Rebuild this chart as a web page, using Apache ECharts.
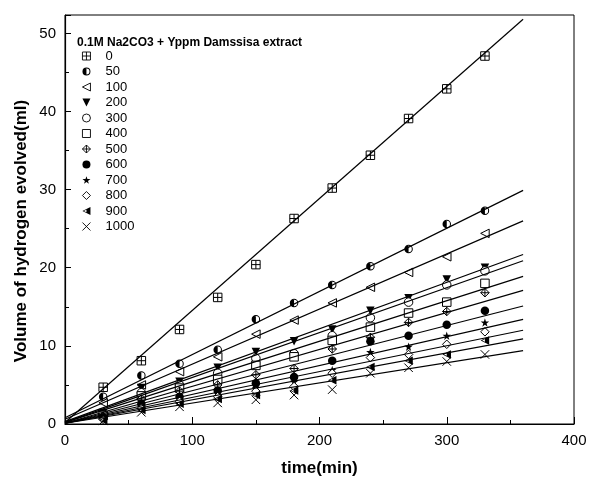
<!DOCTYPE html>
<html><head><meta charset="utf-8">
<script src="https://cdn.jsdelivr.net/npm/echarts@6/dist/echarts.min.js"></script>
<style>html,body{margin:0;padding:0;background:#fff}#c{width:590px;height:479px}</style>
</head><body><div id="c"></div>
<script>
var times = [30, 60, 90, 120, 150, 180, 210, 240, 270, 300, 330];
var seriesNames = ['0','50','100','200','300','400','500','600','700','800','900','1000'];
var s0    = [4.7, 8.1, 12.1, 16.2, 20.4, 26.3, 30.2, 34.4, 39.1, 42.9, 47.1];
var s50   = [3.5, 6.2, 7.7, 9.5, 13.4, 15.5, 17.8, 20.2, 22.4, 25.6, 27.3];
var s100  = [2.7, 5.0, 6.7, 8.6, 11.5, 13.3, 15.5, 17.5, 19.4, 21.4, 24.4];
var s200  = [1.4, 4.6, 5.4, 7.2, 9.2, 10.6, 12.1, 14.5, 16.1, 18.5, 20.0];
var s300  = [1.2, 4.0, 5.0, 6.5, 8.4, 9.0, 11.3, 13.6, 15.6, 17.8, 19.6];
var s400  = [1.1, 3.6, 4.6, 5.7, 7.5, 8.6, 10.7, 12.4, 14.2, 15.6, 18.0];
var s500  = [1.0, 3.2, 4.2, 5.0, 6.3, 7.1, 9.6, 11.1, 13.0, 14.4, 16.8];
var s600  = [0.8, 2.6, 3.5, 4.3, 5.2, 6.0, 8.1, 10.6, 11.3, 12.7, 14.5];
var s700  = [0.7, 2.3, 3.2, 3.9, 4.6, 5.4, 6.9, 9.2, 9.9, 11.3, 13.0];
var s800  = [0.6, 2.0, 2.9, 3.5, 4.2, 4.8, 6.5, 8.5, 8.9, 10.2, 11.8];
var s900  = [0.5, 1.8, 2.6, 3.2, 3.7, 4.3, 5.6, 7.3, 8.1, 8.9, 10.7];
var s1000 = [0.4, 1.5, 2.2, 2.7, 3.1, 3.7, 4.4, 6.5, 7.2, 8.0, 8.9];
// fitted straight lines (value at t = 0 and at t = 360)
var fitX = [0, 360];
var fitAt0   = [0.2, 0.8, 0.6, 0.3, 0.2, 0.2, 0.1, 0.1, 0.1, 0.1, 0.1, 0.1];
var fitAt360 = [51.8, 29.9, 26.0, 21.7, 20.9, 18.9, 17.1, 15.1, 13.4, 12.0, 10.9, 9.4];
var xTicks = [0, 100, 200, 300, 400];
var yTicks = [0, 10, 20, 30, 40, 50];
var legendTitle = '0.1M Na2CO3 + Yppm Damssisa extract';
var xName = 'time(min)';
var yName = 'Volume of hydrogen evolved(ml)';

var allData = [s0, s50, s100, s200, s300, s400, s500, s600, s700, s800, s900, s1000];
var FONT = '"Liberation Sans", Arial, sans-serif';

var symbols = [
  {sym:'path://M0 0 L10 0 L10 10 L0 10 Z M5 0 L5 10 M0 5 L10 5', fill:'#fff', bw:1},
  {sym:'path://M0 5 A5 5 0 1 1 10 5 A5 5 0 1 1 0 5 Z M1.2 5 A3.8 3.8 0 1 0 8.8 5 A3.8 3.8 0 1 0 1.2 5 Z M5 10 A5 5 0 0 1 5 0 Z', fill:'#000', bw:0},
  {sym:'path://M0 5 L10 0 L10 10 Z', fill:'#fff', bw:1},
  {sym:'path://M0 0 L10 0 L5 10 Z', fill:'#000', bw:0},
  {sym:'circle', fill:'#fff', bw:1},
  {sym:'rect', fill:'#fff', bw:1},
  {sym:'path://M5 0 L10 5 L5 10 L0 5 Z M5 0 L5 10 M0 5 L10 5', fill:'#fff', bw:1},
  {sym:'circle', fill:'#000', bw:0},
  {sym:'path://M5 0 L6.2 3.6 L10 3.6 L6.9 5.9 L8.1 9.5 L5 7.3 L1.9 9.5 L3.1 5.9 L0 3.6 L3.8 3.6 Z', fill:'#000', bw:0},
  {sym:'diamond', fill:'#fff', bw:1},
  {sym:'path://M0 5 L10 0 L10 10 Z M1.8 5 L9 8.6 L9 1.4 Z M5 2.5 L10 0 L10 10 L5 7.5 Z', fill:'#000', bw:0},
  {sym:'path://M0 0 L10 10 M10 0 L0 10', fill:'rgba(0,0,0,0)', bw:1}
];

var series = [];
for (var i = 0; i < seriesNames.length; i++) {
  series.push({
    type: 'line', name: 'fit' + seriesNames[i], silent: true,
    data: [[fitX[0], fitAt0[i]], [fitX[1], fitAt360[i]]],
    symbol: 'none', lineStyle: {color: '#000', width: 1.2}, z: 3
  });
}
var legendData = [];
for (var j = 0; j < seriesNames.length; j++) {
  var pts = times.map(function (t, k) { return [t, allData[j][k]]; });
  series.push({
    type: 'scatter', name: seriesNames[j], data: pts,
    symbol: symbols[j].sym, symbolSize: 8.5,
    itemStyle: {color: symbols[j].fill, borderColor: '#000', borderWidth: symbols[j].bw, opacity: 1},
    z: 2
  });
  legendData.push({
    name: seriesNames[j], icon: symbols[j].sym,
    itemStyle: {color: symbols[j].fill, borderColor: '#000', borderWidth: symbols[j].bw * 0.9, opacity: 1}
  });
}

var chart = echarts.init(document.getElementById('c'), null, {renderer: 'canvas'});
chart.setOption({
  animation: false,
  backgroundColor: '#fff',
  textStyle: {fontFamily: FONT},
  title: {text: legendTitle, left: 77, top: 37, padding: 0,
    textStyle: {fontSize: 12, fontWeight: 'bold', color: '#000', fontFamily: FONT}},
  legend: {
    data: legendData, orient: 'vertical', left: 82, top: 49.5, padding: 0,
    itemWidth: 8, itemHeight: 8, itemGap: 2.5,
    textStyle: {fontSize: 13, color: '#000', lineHeight: 13, padding: [0, 0, 0, 10], fontFamily: FONT},
    selectedMode: false
  },
  graphic: [{
    type: 'text', x: 21, y: 231, rotation: Math.PI / 2,
    style: {text: yName, font: 'bold 17px ' + FONT, fill: '#000', align: 'center', verticalAlign: 'middle'}
  }],
  grid: {left: 65, top: 15, right: 16, bottom: 55, show: true, borderColor: '#000', borderWidth: 1,
    backgroundColor: 'transparent', containLabel: false, outerBoundsMode: 'none'},
  xAxis: {
    type: 'value', min: xTicks[0], max: xTicks[xTicks.length - 1], interval: 100,
    name: xName, nameLocation: 'middle', nameGap: 36,
    nameTextStyle: {fontSize: 17, fontWeight: 'bold', color: '#000', fontFamily: FONT},
    axisLine: {lineStyle: {color: '#000', width: 1.2}},
    axisTick: {inside: true, length: 7, lineStyle: {color: '#000'}},
    minorTick: {show: true, splitNumber: 2, length: 4, lineStyle: {color: '#000'}},
    axisLabel: {fontSize: 15, color: '#000', margin: 9, fontFamily: FONT},
    splitLine: {show: false}
  },
  yAxis: {
    type: 'value', min: yTicks[0], max: 52.35, interval: 10,
    axisLine: {lineStyle: {color: '#000', width: 1.2}},
    axisTick: {inside: true, length: 6, lineStyle: {color: '#000'}},
    minorTick: {show: true, splitNumber: 2, length: 4, lineStyle: {color: '#000'}},
    axisLabel: {fontSize: 15, color: '#000', margin: 9, showMaxLabel: false, fontFamily: FONT},
    splitLine: {show: false}
  },
  series: series
});
</script></body></html>
